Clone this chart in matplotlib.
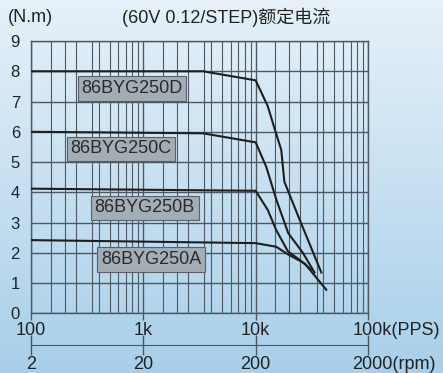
import matplotlib.pyplot as plt
import matplotlib.transforms as mtransforms
from matplotlib.colors import LinearSegmentedColormap
from matplotlib.ticker import FixedLocator, NullFormatter
import numpy as np

plt.rcParams['font.family'] = ['Liberation Sans', 'Noto Sans CJK SC']

# Courbes couple / fréquence (PPS, N.m)
pps_D = [100, 3400, 10000, 12800, 14750, 16900, 18000, 24600, 38400]
nm_D = [8.0, 8.0, 7.7, 6.85, 6.1, 5.4, 4.35, 3.1, 1.35]
pps_C = [100, 3400, 10000, 12400, 15300, 19500, 26300, 33400]
nm_C = [6.0, 5.95, 5.65, 4.85, 3.75, 2.65, 2.0, 1.35]
pps_B = [100, 10000, 12800, 15250, 19350, 25000, 31000]
nm_B = [4.12, 4.05, 3.42, 2.75, 2.05, 1.75, 1.45]
pps_A = [100, 10000, 15250, 19350, 27300, 42500]
nm_A = [2.42, 2.32, 2.2, 1.95, 1.65, 0.78]

modeles = ["86BYG250D", "86BYG250C", "86BYG250B", "86BYG250A"]
pos_labels = [(790, 7.43), (630, 5.44), (1030, 3.49), (1170, 1.78)]

ticks_pps = [100, 1000, 10000, 100000]
labels_pps = ["100", "1k", "10k", "100k(PPS)"]
ticks_rpm = [2, 20, 200, 2000]
labels_rpm = ["2", "20", "200", "2000(rpm)"]

fig = plt.figure(figsize=(4.43, 3.73), dpi=100)

# fond dégradé bleu
bg = fig.add_axes([0, 0, 1, 1], zorder=-10)
cmap = LinearSegmentedColormap.from_list('fond', ['#e6f1f9', '#a8cfea'])
bg.imshow(np.linspace(0, 1, 256).reshape(-1, 1), aspect='auto', cmap=cmap,
          extent=[0, 1, 0, 1])
bg.axis('off')

ax = fig.add_axes([0.070, 0.160, 0.7607, 0.730])
ax.patch.set_alpha(0)
ax.set_xscale('log')
ax.set_xlim(100, 100000)
ax.set_ylim(0, 9)

grille = '#4d5862'
mineurs = [d * f for d in [100, 1000, 10000] for f in [1.5, 2, 2.5, 3.5, 4, 5, 6, 7, 8, 9]]
ax.xaxis.set_minor_locator(FixedLocator(mineurs))
ax.xaxis.set_minor_formatter(NullFormatter())
ax.set_xticks(ticks_pps)
ax.set_xticklabels(labels_pps, fontsize=13, color='#222222')
ax.set_yticks(range(10))
ax.set_yticklabels([str(i) for i in range(10)], fontsize=12, color='#222222')
ax.grid(True, which='major', color=grille, lw=1.0)
ax.grid(True, which='minor', axis='x', color=grille, lw=0.8)
ax.tick_params(axis='y', length=0, pad=8)
ax.tick_params(axis='x', which='major', length=5, width=1, color=grille, pad=1)
ax.tick_params(axis='x', which='minor', length=0)
for s in ax.spines.values():
    s.set_color(grille)
    s.set_linewidth(1.0)

# décaler le dernier libellé pour que "100k" reste centré sur la graduation
dx = mtransforms.ScaledTranslation(-15 / 100, 0, fig.dpi_scale_trans)
lab = ax.get_xticklabels()[-1]
lab.set_horizontalalignment('left')
lab.set_transform(lab.get_transform() + dx)

for x, y in [(pps_D, nm_D), (pps_C, nm_C), (pps_B, nm_B), (pps_A, nm_A)]:
    ax.plot(x, y, color='#1e1e1e', lw=1.5, zorder=3)

for nom, (x, y) in zip(modeles, pos_labels):
    ax.text(x, y, nom, fontsize=13, color='#2a2a2a', ha='center', va='center', zorder=4,
            bbox=dict(boxstyle='square,pad=0.2', fc='#a3adb5', ec='#5a6068', lw=0.8))

# axe secondaire en tr/min
sec = ax.secondary_xaxis(-0.1164, functions=(lambda p: p / 50, lambda r: r * 50))
sec.set_xticks(ticks_rpm)
sec.set_xticklabels(labels_rpm, fontsize=13, color='#222222')
sec.xaxis.set_minor_locator(FixedLocator([]))
sec.tick_params(axis='x', direction='inout', length=14, width=1, color=grille, pad=1)
sec.spines['bottom'].set_color(grille)
dx2 = mtransforms.ScaledTranslation(-16 / 100, 0, fig.dpi_scale_trans)
lab2 = sec.get_xticklabels()[-1]
lab2.set_horizontalalignment('left')
lab2.set_transform(lab2.get_transform() + dx2)

fig.text(8 / 443, 1 - 17 / 373, "(N.m)", fontsize=13, color='#222222', va='center')
fig.text(226 / 443, 1 - 17 / 373, "(60V 0.12/STEP)额定电流", fontsize=13,
         color='#222222', ha='center', va='center')

fig.savefig('out.png', dpi=100)
